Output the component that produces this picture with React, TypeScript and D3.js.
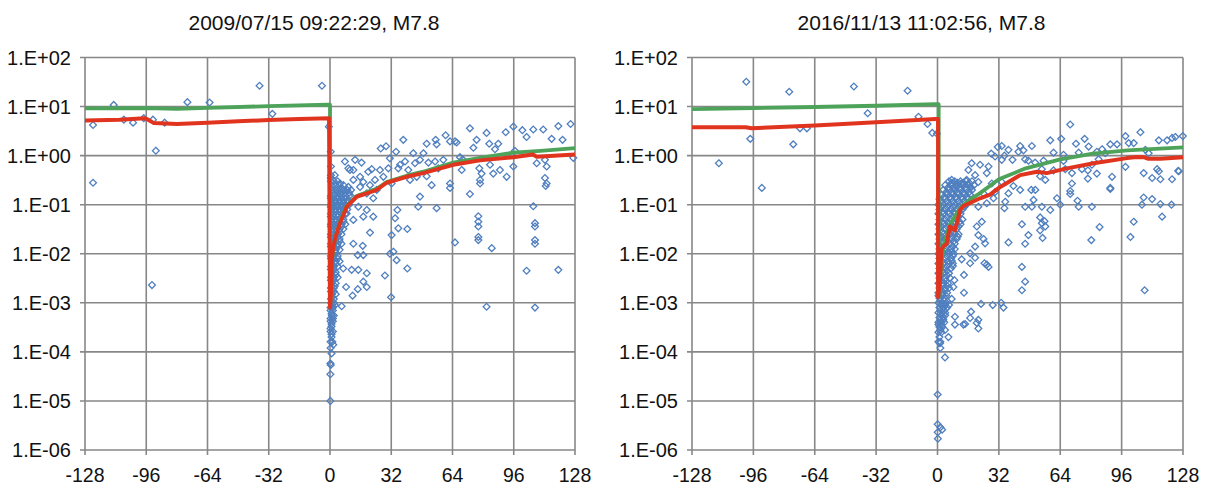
import { useEffect, useRef } from "react";
import * as d3 from "d3";

type Pt = [number, number];
type Row = [number, number[]];

const width = 1213;
const height = 489;

const titles = ["2009/07/15 09:22:29, M7.8", "2016/11/13 11:02:56, M7.8"];
const xTicks = [-128, -96, -64, -32, 0, 32, 64, 96, 128];
const yTicks = [1e2, 1e1, 1, 1e-1, 1e-2, 1e-3, 1e-4, 1e-5, 1e-6];
const yTickLabels = ["1.E+02", "1.E+01", "1.E+00", "1.E-01", "1.E-02", "1.E-03", "1.E-04", "1.E-05", "1.E-06"];

// ---- 2009/07/15 event ----
const obsLeft: Pt[] = [
  [-123.8, 4.2], [-113, 10.8], [-107.7, 5.4], [-102.9, 4.7], [-97.3, 5.8], [-92.5, 5.4], [-86.4, 4.7],
  [-91, 1.26], [-74.5, 12.3], [-62.9, 12.1], [-36.8, 26.5], [-30.1, 7.1], [-4.2, 26.5], [-0.6, 3.9],
  [-123.8, 0.28], [-93, 0.0023],
  [0.4, 1.2], [0.5, 0.6], [0.4, 0.35],
  [73.1, 3.6], [81.8, 2.9], [95.8, 3.9], [100.5, 3.3], [102.7, 2.4], [106.2, 3.4], [111.4, 3.4], [119.3, 4.0],
  [125.7, 4.4], [121.5, 2.1], [115.8, 2.2], [91.8, 3.0], [76.6, 2.1], [83.2, 1.75], [87.9, 1.75], [86.2, 1.35],
  [74.9, 1.45], [66.2, 1.85], [60.4, 2.6], [55.2, 2.1], [50.5, 1.75], [38.3, 2.1], [29.3, 1.55], [26.5, 1.4],
  [34.5, 1.2], [43.5, 1.12], [48.8, 1.12], [55.7, 1.7], [62.7, 1.95], [65.3, 1.95], [67.9, 0.93], [69.3, 0.84],
  [59.2, 0.82], [54.9, 0.76], [51.4, 0.72], [47, 0.82], [44.4, 0.7], [39.2, 0.76], [36.6, 0.65], [31.3, 0.88],
  [30.5, 0.55], [26.1, 0.51], [21.8, 0.53], [16.5, 0.72], [13.1, 0.82], [7.8, 0.76], [9.6, 0.55], [12.2, 0.51],
  [15.7, 0.37], [20, 0.47], [23.5, 0.32], [27.9, 0.37], [32.2, 0.27], [35.7, 0.55], [40.9, 0.51], [45.3, 0.37],
  [41.8, 0.32], [50.5, 0.38], [53.1, 0.25], [56.6, 0.55], [62.7, 0.27], [62.7, 0.22], [68.8, 0.51], [73.1, 0.165],
  [78.4, 0.32], [78.4, 0.27], [79.2, 0.43], [85.3, 0.43], [88.8, 0.51], [92.3, 0.37], [78, 0.55], [83.6, 0.65],
  [95.8, 0.6], [96.6, 1.25], [112.3, 0.82], [108, 0.7], [113.2, 0.6], [127.1, 0.9], [112.3, 0.35], [113.2, 0.27],
  [112.7, 0.24], [46.1, 0.091], [55.7, 0.085], [47, 0.146], [34, 0.053], [35.2, 0.078], [40.4, 0.032],
  [35.7, 0.033], [32.2, 0.024], [31.3, 0.01], [33.1, 0.011], [34.8, 0.0074], [40.4, 0.005], [28.7, 0.0036],
  [31.9, 0.0013], [65.3, 0.017], [77.5, 0.058], [77.5, 0.045], [77.5, 0.036], [77.5, 0.022], [77.5, 0.019],
  [84.5, 0.013], [81.8, 0.00083], [102.7, 0.0045], [106.2, 0.093], [107.1, 0.042], [107.1, 0.036],
  [107.1, 0.019], [107.1, 0.016], [119.3, 0.0047], [107.1, 0.0008],
  [20.9, 0.027], [12.2, 0.016], [17.1, 0.0145], [14.5, 0.0094], [17.4, 0.0094], [11.3, 0.0047], [14.8, 0.0047],
  [19.2, 0.004], [17.4, 0.0027], [19.2, 0.0021], [11.8, 0.0014], [14.5, 0.0019], [8.4, 0.0021], [6.1, 0.00085],
  [6.9, 0.005],
  [10.4, 0.51], [5.2, 0.27], [12.2, 0.32], [17.4, 0.29], [20.9, 0.25], [24.4, 0.2], [22.6, 0.135], [19.2, 0.17],
  [15.7, 0.23], [9.6, 0.23], [5.2, 0.17], [6.9, 0.125], [3.5, 0.091], [11.3, 0.145], [19.2, 0.078], [22.6, 0.057],
  [14.8, 0.091], [17.4, 0.057], [12.2, 0.049], [8.7, 0.066],
  [1.7, 0.00014], [0.8, 0.000093], [0.2, 0.000058], [0.4, 0.000054], [0.2, 0.000035], [0.2, 0.00001],
  [0.3, 0.00012],
];

// the solid mass of readings just after the main shock
const denseLeftRows: Row[] = [
  [0.4, [0.5, 2.5]],
  [0.3, [0.5, 2, 4]],
  [0.25, [1, 3, 5, 7]],
  [0.2, [1, 3, 5, 7, 9, 11]],
  [0.175, [2, 4, 6, 8, 10]],
  [0.15, [0.5, 2, 4, 6, 8, 10]],
  [0.135, [0.5, 2, 4, 6, 8]],
  [0.12, [1, 3, 5, 7, 9]],
  [0.11, [1, 3, 5, 7, 9]],
  [0.1, [0.5, 2, 4, 6, 8, 10]],
  [0.09, [0.5, 2, 4, 6, 8]],
  [0.08, [1, 3, 5, 7, 9]],
  [0.072, [1, 3, 5, 7]],
  [0.065, [0.5, 2, 4, 6, 8]],
  [0.057, [0.5, 2, 4, 6]],
  [0.05, [1, 3, 5, 7]],
  [0.045, [1, 3, 5, 7]],
  [0.04, [0.5, 2, 4, 6, 8]],
  [0.036, [0.5, 2, 4, 6]],
  [0.032, [1, 3, 5, 7]],
  [0.028, [1, 3, 5]],
  [0.025, [0.5, 2, 4, 6]],
  [0.022, [0.5, 2, 4]],
  [0.02, [1, 3, 5]],
  [0.018, [1, 3, 5]],
  [0.016, [0.5, 2, 4, 6]],
  [0.014, [0.5, 2, 4]],
  [0.012, [1, 3, 5]],
  [0.0105, [1, 3]],
  [0.009, [0.5, 2, 4]],
  [0.008, [0.5, 2, 4]],
  [0.007, [1, 3, 5]],
  [0.0062, [1, 3]],
  [0.0055, [0.5, 2, 4]],
  [0.0048, [0.5, 2]],
  [0.0042, [1, 3]],
  [0.0037, [1, 3]],
  [0.0033, [0.5, 2, 4]],
  [0.0029, [0.5, 2]],
  [0.0025, [1, 3]],
  [0.0022, [1, 2.5]],
  [0.002, [0.5, 2]],
  [0.0017, [0.5, 2]],
  [0.0015, [1, 3]],
  [0.00135, [1]],
  [0.0012, [0.5, 2]],
  [0.001, [0.5, 2]],
  [0.0009, [1, 2.5]],
  [0.0008, [0.3, 1.5]],
  [0.0007, [0.3, 1.5]],
  [0.0006, [0.8]],
  [0.00055, [1, 2]],
  [0.00048, [0.3, 1.5]],
  [0.00042, [0.3, 1.5]],
  [0.00037, [0.8]],
  [0.00033, [0.8]],
  [0.0003, [0.3]],
  [0.00026, [0.3, 1.5]],
  [0.00023, [0.8]],
  [0.0002, [0.8]],
  [0.00016, [0.3, 1.2]],
];

const greenLeft: Pt[] = [
  [-128, 9.2], [-96, 9.3], [-80, 9.0], [-64, 9.4], [-32, 10.2], [-1, 11.0], [0, 11.0],
  [0.2, 0.001], [0.9, 0.007], [2.6, 0.02], [5.2, 0.045], [8.7, 0.095], [13.9, 0.15], [19.2, 0.18],
  [24.4, 0.21], [29.6, 0.29], [40, 0.39], [48.7, 0.47], [64.4, 0.72], [78.4, 0.9], [95.8, 1.15],
  [110, 1.25], [128, 1.42],
];

const redLeft: Pt[] = [
  [-128, 5.2], [-110, 5.4], [-97, 5.8], [-95, 5.4], [-92, 4.6], [-80, 4.4], [-64, 4.7], [-48, 5.0],
  [-32, 5.3], [-16, 5.6], [-0.5, 5.8], [0, 0.0008], [0.5, 0.0015], [0.9, 0.007], [1.5, 0.012],
  [2.6, 0.02], [5.2, 0.042], [8.7, 0.09], [13.9, 0.145], [19.2, 0.17], [24.4, 0.2], [29.6, 0.28],
  [40, 0.37], [48.7, 0.44], [64.4, 0.65], [78.4, 0.8], [95.8, 0.93], [106, 1.05], [108, 0.95],
  [128, 1.05],
];

// ---- 2016/11/13 event ----
const obsRight: Pt[] = [
  [-99.7, 32], [-97.6, 2.2], [-77.3, 20], [-75.2, 1.7], [-71.7, 3.6], [-68.1, 3.6], [-43.6, 25.6],
  [-36.4, 7.3], [-15.6, 21], [-9.9, 6.2], [-5.2, 4.4], [-2.7, 2.9], [-0.3, 2.8], [-114, 0.7], [-91.6, 0.22],
  [69.2, 4.3], [98, 2.5], [105.8, 3.0], [90.1, 1.7], [93.6, 1.7], [99.7, 1.8], [102.3, 1.8], [115.4, 2.05],
  [119.7, 2.05], [124, 2.4], [127.9, 2.5], [122.3, 2.3], [58.8, 2.05], [64.5, 2.2], [72.2, 1.75], [76.7, 2.2],
  [78.8, 1.53], [85.8, 1.35], [83.1, 1.2], [87.5, 1.12], [33.5, 1.57], [31.4, 1.5], [43.1, 1.57], [44.8, 1.28],
  [49.2, 1.57], [60.5, 1.15], [65.7, 1.04], [73.6, 1.15], [28, 1.1], [34.9, 1.0], [39.1, 0.82], [45.7, 0.84],
  [50.9, 0.72], [55.3, 0.79], [47.4, 0.79], [54.4, 0.53], [60.5, 0.5], [53.5, 0.38], [56.2, 0.32], [65.7, 0.78],
  [66.6, 0.53], [70.1, 0.44], [75.3, 0.53], [78.4, 0.5], [80.5, 0.65], [78.4, 0.34], [83.1, 0.43], [91, 0.37],
  [90.1, 0.21], [84, 0.84], [98, 0.59], [107.5, 0.44], [114.5, 0.53], [115.4, 0.48], [116.2, 0.33],
  [111.9, 0.35], [122.3, 0.33], [125.8, 0.48], [108.4, 1.31], [110.1, 1.12], [70.1, 0.27], [69.2, 0.19],
  [73.6, 0.091], [80.5, 0.091], [62.3, 0.135], [64, 0.1], [58.8, 0.078], [54.4, 0.091], [50.1, 0.125],
  [49.2, 0.091], [45.7, 0.091], [34.9, 0.085], [51, 0.2], [48.9, 0.2], [39.6, 0.24], [43.1, 0.2], [37, 0.17],
  [53.5, 0.055], [55.8, 0.046], [84.5, 0.035], [102.3, 0.045], [107.5, 0.14], [106.6, 0.1], [111.9, 0.13],
  [117.1, 0.057], [122, 0.1], [116.2, 0.103], [73, 0.12], [69.2, 0.165], [90.1, 0.22], [125.5, 0.49],
  [17.8, 0.7], [22.2, 0.65], [25.7, 0.44], [26.6, 0.6], [16.1, 0.51], [19.6, 0.4], [21.3, 0.29], [15.2, 0.32],
  [12.3, 0.27], [7.4, 0.32], [10, 0.23], [17, 0.23], [28.3, 0.27], [29.2, 0.135], [25.7, 0.107], [21.3, 0.091],
  [30, 0.18], [33.5, 0.29], [35.3, 0.115], [24, 0.17], [33.5, 0.82], [30, 0.96], [42.2, 1.2], [37, 1.31],
  [44, 0.04], [54.4, 0.042], [56.2, 0.036], [53.5, 0.03], [47.4, 0.024], [45.7, 0.016], [54.8, 0.021],
  [37, 0.017], [80.2, 0.019], [100.6, 0.022], [44, 0.0054], [45.7, 0.0027], [44, 0.0018], [108, 0.0018],
  [22.7, 0.00095], [28.8, 0.0009], [33.2, 0.001], [34.4, 0.0008], [17.5, 0.00066], [17, 0.00049],
  [21.3, 0.00045], [20.5, 0.00039], [14.4, 0.00037], [13.5, 0.00036], [21.3, 0.0003], [9.1, 0.00036],
  [13.8, 0.0016], [17, 0.0064], [19.6, 0.014], [24, 0.02], [24.8, 0.0163], [21.3, 0.024], [20.5, 0.036],
  [23.1, 0.045], [25.7, 0.006], [26.6, 0.0054], [24.5, 0.0064], [12.6, 0.0077], [17, 0.0102], [19.6, 0.0083],
  [13.8, 0.0037], [8.8, 0.0029], [8.3, 0.0021], [7.4, 0.0012], [6, 0.0009], [9.1, 0.00052], [3.9, 0.00028],
  [5.7, 0.0002], [1.3, 0.00015], [1.5, 0.00012], [3.9, 0.000077], [0.1, 0.0000135], [0.1, 0.00000335],
  [1.5, 0.0000029], [0.1, 0.0000023], [2.4, 0.0000026], [0.2, 0.0000017],
];

const denseRightRows: Row[] = [
  [0.3, [6, 9, 12, 15, 18]],
  [0.28, [7.5, 10.5, 13.5, 16.5]],
  [0.25, [4, 7, 10, 13, 16, 19]],
  [0.225, [5.5, 8.5, 11.5, 14.5, 17.5]],
  [0.2, [3, 6, 9, 12, 15, 18]],
  [0.18, [4.5, 7.5, 10.5, 13.5, 16.5]],
  [0.16, [2, 5, 8, 11, 14, 17]],
  [0.145, [3.5, 6.5, 9.5, 12.5, 15.5]],
  [0.13, [1, 4, 7, 10, 13, 16]],
  [0.115, [2, 5, 8, 11, 14]],
  [0.1, [0.5, 3, 6, 9, 12, 15]],
  [0.09, [2, 5, 8, 11, 14]],
  [0.08, [1, 4, 7, 10, 13]],
  [0.072, [2.5, 5.5, 8.5, 11.5]],
  [0.065, [0.5, 3, 6, 9, 12]],
  [0.057, [2, 5, 8, 11]],
  [0.05, [1, 4, 7, 10, 13]],
  [0.045, [2.5, 5.5, 8.5, 11.5]],
  [0.04, [0.5, 3, 6, 9, 12]],
  [0.036, [2, 5, 8, 11]],
  [0.032, [1, 4, 7, 10]],
  [0.028, [2.5, 5.5, 8.5]],
  [0.025, [0.5, 3, 6, 9, 11]],
  [0.0225, [2, 5, 8, 10.5]],
  [0.02, [1, 4, 7, 10]],
  [0.018, [2.5, 5.5, 8.5]],
  [0.016, [0.5, 3, 6, 9]],
  [0.014, [2, 5, 8]],
  [0.0125, [1, 4, 7, 9]],
  [0.011, [2.5, 5.5, 7.5]],
  [0.01, [0.5, 3, 6, 8.5]],
  [0.009, [2, 5, 8]],
  [0.008, [1, 4, 7]],
  [0.0071, [2.5, 5.5, 7.5]],
  [0.0063, [0.5, 3, 6, 8]],
  [0.0056, [2, 5, 8]],
  [0.005, [1, 4, 7]],
  [0.0045, [2.5, 5]],
  [0.004, [0.5, 3, 6]],
  [0.0036, [2, 5]],
  [0.0032, [1, 4, 6.5]],
  [0.0028, [2, 4.5]],
  [0.0025, [0.5, 3, 5.5]],
  [0.0022, [2.5, 5]],
  [0.002, [1, 4, 6]],
  [0.0018, [2, 4]],
  [0.0016, [0.5, 3, 5]],
  [0.0014, [0.5, 2.5, 4.5]],
  [0.00125, [1, 3.5]],
  [0.0011, [1.5, 3.5]],
  [0.001, [0.5, 2.5, 4.5]],
  [0.0009, [2, 4]],
  [0.0008, [1, 3, 5]],
  [0.0007, [1.5, 3.5]],
  [0.00063, [0.5, 2.5, 4]],
  [0.00056, [2, 4]],
  [0.0005, [1, 3]],
  [0.00045, [1.5, 3]],
  [0.0004, [0.5, 2, 3.5]],
  [0.00036, [0.5, 2]],
  [0.00032, [1, 2.5]],
  [0.00028, [1.5]],
  [0.00025, [0.5, 2]],
  [0.0002, [1]],
  [0.00016, [0.5, 1.5]],
];

const greenRight: Pt[] = [
  [-128, 8.9], [-96, 9.3], [-64, 9.8], [-32, 10.4], [-1, 11.2], [0.6, 11.2],
  [0.6, 0.0013], [1.3, 0.0029], [3, 0.014], [6.5, 0.04], [11.8, 0.085], [16, 0.12], [22, 0.17],
  [32, 0.33], [46, 0.55], [64, 0.84], [81, 1.1], [99, 1.28], [128, 1.47],
];

const redRight: Pt[] = [
  [-128, 3.8], [-100, 3.8], [-97, 3.6], [-64, 4.1], [-32, 4.8], [-1, 5.6], [0.3, 5.6], [0.3, 0.0013],
  [1.3, 0.0029], [2, 0.012], [3, 0.014], [4.8, 0.016], [6.5, 0.036], [9.1, 0.03], [11.8, 0.078],
  [13.5, 0.094], [22.2, 0.135], [27.4, 0.16], [32.7, 0.23], [43.1, 0.4], [51.8, 0.47], [57, 0.44],
  [67.5, 0.55], [81.4, 0.7], [98.8, 0.89], [104, 0.94], [107.5, 0.93], [110, 0.86], [116.2, 0.86],
  [128, 0.93],
];

const flatten = (rows: Row[]): Pt[] => rows.flatMap(([v, xs]) => xs.map((x) => [x, v] as Pt));

const panels = [
  { title: titles[0], left: 85, right: 575, points: [...obsLeft, ...flatten(denseLeftRows)], green: greenLeft, red: redLeft },
  { title: titles[1], left: 692, right: 1183, points: [...obsRight, ...flatten(denseRightRows)], green: greenRight, red: redRight },
];

const plotTop = 57.5;
const plotBottom = 450;
const gridColor = "#878787";
const textColor = "#111";
const font = "'Liberation Sans', Arial, sans-serif";

const App = () => {
  const svgRef = useRef<SVGSVGElement>(null);

  useEffect(() => {
    const svg = d3.select(svgRef.current);
    svg.selectAll("*").remove();

    panels.forEach((p) => {
      const x = d3.scaleLinear().domain([-128, 128]).range([p.left, p.right]);
      const y = d3.scaleLog().domain([1e-6, 1e2]).range([plotBottom, plotTop]);
      const g = svg.append("g");

      // grid lines (ticks stick out 5px)
      g.selectAll(".vgrid")
        .data(xTicks)
        .join("line")
        .attr("x1", (d) => x(d)).attr("x2", (d) => x(d))
        .attr("y1", plotTop).attr("y2", plotBottom + 5)
        .attr("stroke", gridColor).attr("stroke-width", 1.6);
      g.selectAll(".hgrid")
        .data(yTicks)
        .join("line")
        .attr("x1", p.left - 5).attr("x2", p.right)
        .attr("y1", (d) => y(d)).attr("y2", (d) => y(d))
        .attr("stroke", gridColor).attr("stroke-width", 1.6);

      // tick labels
      g.selectAll(".ylab")
        .data(yTicks)
        .join("text")
        .attr("x", p.left - 14)
        .attr("y", (d) => y(d))
        .attr("dy", "0.36em")
        .attr("text-anchor", "end")
        .attr("font-family", font).attr("font-size", 20).attr("fill", textColor)
        .text((d, i) => yTickLabels[i]);
      g.selectAll(".xlab")
        .data(xTicks)
        .join("text")
        .attr("x", (d) => x(d))
        .attr("y", 482)
        .attr("text-anchor", "middle")
        .attr("font-family", font).attr("font-size", 19.5).attr("fill", textColor)
        .text((d) => String(d));

      g.append("text")
        .attr("x", x(0) - 16)
        .attr("y", 30)
        .attr("text-anchor", "middle")
        .attr("font-family", font).attr("font-size", 21).attr("fill", textColor)
        .text(p.title);

      // scatter (hollow diamonds)
      const r = 3.4;
      g.append("g")
        .selectAll("path")
        .data(p.points)
        .join("path")
        .attr("d", (d) => {
          const cx = x(d[0]);
          const cy = y(d[1]);
          return `M${cx},${cy - r}L${cx + r},${cy}L${cx},${cy + r}L${cx - r},${cy}Z`;
        })
        .attr("fill", "none")
        .attr("stroke", "#4f7fbf")
        .attr("stroke-width", 1.3);

      const line = d3.line<Pt>().x((d) => x(d[0])).y((d) => y(d[1]));
      g.append("path").datum(p.green).attr("d", line)
        .attr("fill", "none").attr("stroke", "#4ea35a").attr("stroke-width", 3.8).attr("stroke-linejoin", "round");
      g.append("path").datum(p.red).attr("d", line)
        .attr("fill", "none").attr("stroke", "#e1341f").attr("stroke-width", 4).attr("stroke-linejoin", "round");
    });
  }, []);

  return (
    <svg
      ref={svgRef}
      width={width}
      height={height}
      style={{ position: "absolute", left: 0, top: 0, background: "#fff" }}
    />
  );
};

export default App;
